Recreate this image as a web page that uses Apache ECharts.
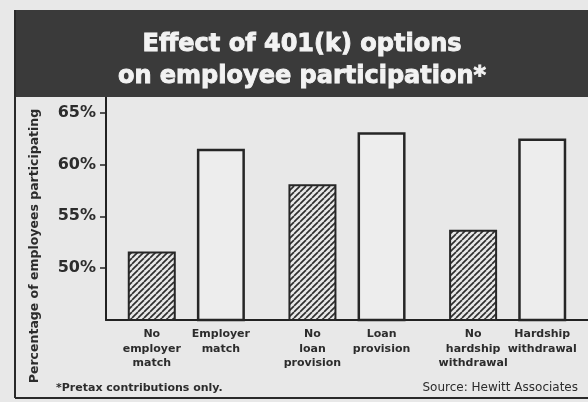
<!DOCTYPE html>
<html>
<head>
<meta charset="utf-8">
<script src="https://cdn.jsdelivr.net/npm/echarts@6/dist/echarts.min.js"></script>
<style>
  html, body { margin: 0; padding: 0; background: #e8e8e8; }
  #chart { width: 588px; height: 402px; }
</style>
</head>
<body>
<div id="chart"></div>
<script>
// ---- data ----
const groups = ['Employer match', 'Loan provision', 'Hardship withdrawal'];
const withoutLabels = ['No\nemployer\nmatch', 'No\nloan\nprovision', 'No\nhardship\nwithdrawal'];
const withLabels = ['Employer\nmatch', 'Loan\nprovision', 'Hardship\nwithdrawal'];
const withoutValues = [51.6, 58.1, 53.7];
const withValues = [61.5, 63.1, 62.5];
const yTicks = [50, 55, 60, 65];
const titleLines = ['Effect of 401(k) options', 'on employee participation*'];
const yTitle = 'Percentage of employees participating';
const footnote = '*Pretax contributions only.';
const source = 'Source: Hewitt Associates';

// ---- hatch pattern ----
function hatch() {
  const s = 6;
  const c = document.createElement('canvas');
  c.width = s; c.height = s;
  const g = c.getContext('2d');
  g.fillStyle = '#e8e8e8';
  g.fillRect(0, 0, s, s);
  g.strokeStyle = '#2e2e2e';
  g.lineWidth = 1.7;
  for (const k of [-s, 0, s]) {
    g.beginPath();
    g.moveTo(k, s);
    g.lineTo(k + s, 0);
    g.stroke();
  }
  return c;
}

const FONT = 'DejaVu Sans';
const INK = '#2c2c2c';
const chart = echarts.init(document.getElementById('chart'), null, { renderer: 'canvas' });

const labelStyle = (arr) => ({
  show: true,
  position: 'bottom',
  distance: 6,
  formatter: p => arr[p.dataIndex],
  fontFamily: FONT,
  fontSize: 11,
  fontWeight: 'bold',
  lineHeight: 14.5,
  color: INK,
  align: 'center'
});

chart.setOption({
  backgroundColor: '#e8e8e8',
  animation: false,
  grid: { left: 106, right: -7, top: 97, bottom: 82 },
  xAxis: {
    type: 'category',
    data: groups,
    axisLine: { show: true, lineStyle: { color: '#222', width: 2 } },
    axisTick: { show: false },
    axisLabel: { show: false },
    splitLine: { show: false }
  },
  yAxis: {
    type: 'value',
    min: 45,
    max: 66.5,
    interval: 5,
    axisLine: { show: true, lineStyle: { color: '#222', width: 2 } },
    axisTick: { show: true, customValues: yTicks, length: 6, lineStyle: { color: '#222', width: 1.5 } },
    axisLabel: {
      customValues: yTicks,
      formatter: '{value}%',
      fontFamily: FONT,
      fontSize: 16,
      fontWeight: 'bold',
      color: INK,
      margin: 10
    },
    splitLine: { show: false }
  },
  series: [
    {
      type: 'bar',
      data: withoutValues,
      barWidth: 48,
      barGap: '44%',
      itemStyle: { color: { image: hatch(), repeat: 'repeat' }, borderColor: '#262626', borderWidth: 2 },
      label: labelStyle(withoutLabels)
    },
    {
      type: 'bar',
      data: withValues,
      barWidth: 48,
      itemStyle: { color: '#ededed', borderColor: '#262626', borderWidth: 2.5 },
      label: labelStyle(withLabels)
    }
  ],
  graphic: [
    { type: 'rect', shape: { x: 14, y: 10, width: 600, height: 87 }, style: { fill: '#3a3a3a' }, z: 1 },
    { type: 'line', shape: { x1: 15, y1: 10, x2: 15, y2: 398 }, style: { stroke: '#2a2a2a', lineWidth: 2 }, z: 2 },
    { type: 'line', shape: { x1: 15, y1: 398, x2: 600, y2: 398 }, style: { stroke: '#2a2a2a', lineWidth: 2 }, z: 2 },
    { type: 'text', x: 302, y: 45, z: 3, style: { text: titleLines[0], fill: '#f2f2f2', stroke: '#f2f2f2', lineWidth: 0.9, font: 'bold 24px "DejaVu Sans"', align: 'center', verticalAlign: 'middle' } },
    { type: 'text', x: 302, y: 77, z: 3, style: { text: titleLines[1], fill: '#f2f2f2', stroke: '#f2f2f2', lineWidth: 0.9, font: 'bold 24px "DejaVu Sans"', align: 'center', verticalAlign: 'middle' } },
    { type: 'text', x: 35, y: 246, rotation: Math.PI / 2, z: 3, style: { text: yTitle, fill: INK, font: 'bold 12.5px "DejaVu Sans"', align: 'center', verticalAlign: 'middle' } },
    { type: 'text', x: 56, y: 388, z: 3, style: { text: footnote, fill: INK, font: 'bold 11px "DejaVu Sans"', align: 'left', verticalAlign: 'middle' } },
    { type: 'text', x: 578, y: 388, z: 3, style: { text: source, fill: INK, font: '12px "DejaVu Sans"', align: 'right', verticalAlign: 'middle' } }
  ]
});
</script>
</body>
</html>
